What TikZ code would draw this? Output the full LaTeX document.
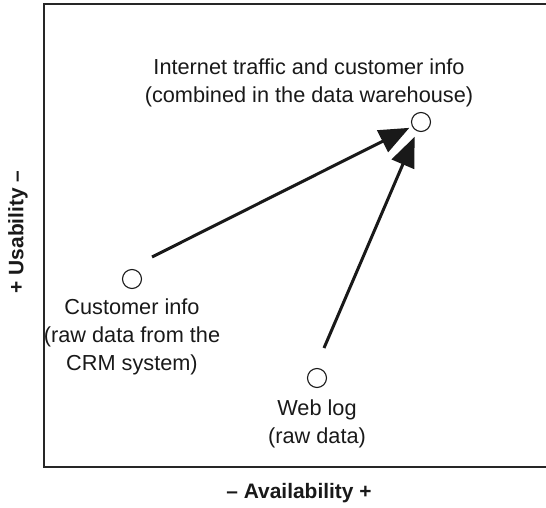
\documentclass[tikz,border=0pt]{standalone}
\usepackage{fontspec}
\setmainfont{Liberation Sans}
\usetikzlibrary{arrows.meta}
\begin{document}
\begin{tikzpicture}[x=1bp,y=-1bp,
  lbl/.style={align=center, inner sep=0pt, font=\fontsize{21.8}{28}\selectfont, text=black!90},
  axislbl/.style={inner sep=0pt, font=\fontsize{21}{24}\selectfont\bfseries, text=black!90},
  dot/.style={circle, draw=black!90, line width=1.1bp, minimum size=19bp, inner sep=0pt},
  flow/.style={line width=3bp, draw=black!90, -{Triangle[length=30bp,width=24bp]}},
  frame/.style={line width=2bp, draw=black!85}]
\useasboundingbox (0,0) rectangle (546,508);
\draw[frame] (547,4) -- (44,4) -- (44,467) -- (547,467);
\node[dot] (dw) at (421,122) {};
\node[dot] (crm) at (132,279) {};
\node[dot] (web) at (317,378) {};
\node[lbl] (dwt) at (309,83) {Internet traffic and customer info\\(combined in the data warehouse)};
\node[lbl] (crmt) at (132,337) {Customer info\\(raw data from the\\CRM system)};
\node[lbl] (webt) at (317,424) {Web log\\(raw data)};
\node[axislbl] (xl) at (299,493) {– Availability +};
\node[axislbl, rotate=90] (yl) at (18,232) {+ Usability –};
\coordinate (s1) at (152,257);
\coordinate (s2) at (324,348);
\draw[flow, shorten >=3bp] (s1) -- (dw);
\draw[flow, shorten >=6bp] (s2) -- (dw);
\end{tikzpicture}
\end{document}
